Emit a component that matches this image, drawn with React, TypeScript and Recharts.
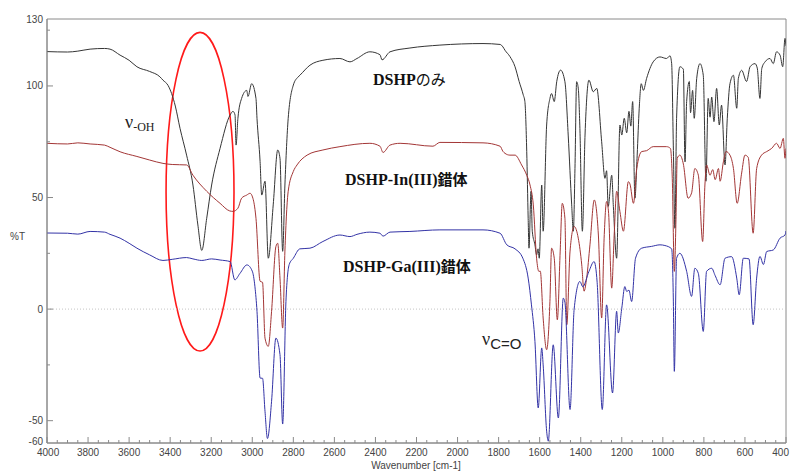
import React from "react";
import {
  LineChart,
  Line,
  XAxis,
  YAxis,
  ReferenceArea,
  ReferenceLine,
} from "recharts";

// wavenumber (cm-1) and %T, high to low wavenumber
const dshpW = [
  4000, 3900, 3850, 3790, 3720, 3693, 3644, 3600, 3562, 3500, 3450, 3435, 3410, 3393, 3375, 3352, 3320, 3289,
  3265, 3246, 3222, 3198, 3157, 3108, 3094, 3084, 3079, 3070, 3052, 3027, 3021, 3003, 2982, 2977, 2962, 2954,
  2938, 2922, 2898, 2876, 2865, 2852, 2841, 2825, 2800, 2777, 2768, 2719, 2656, 2573, 2524, 2490, 2427, 2378,
  2368, 2329, 2232, 2086, 1876, 1793, 1779, 1769, 1745, 1720, 1700, 1680, 1672, 1663, 1656, 1652, 1642, 1636,
  1623, 1615, 1608, 1602, 1590, 1583, 1566, 1550, 1542, 1529, 1517, 1498, 1477, 1461, 1444, 1436, 1428, 1420,
  1412, 1404, 1392, 1379, 1360, 1339, 1322, 1298, 1282, 1274, 1266, 1249, 1241, 1225, 1209, 1200, 1188, 1176,
  1165, 1156, 1147, 1136, 1125, 1115, 1105, 1095, 1079, 1047, 1014, 982, 965, 957, 949, 941, 933, 917, 900,
  892, 884, 871, 865, 855, 847, 835, 819, 803, 790, 779, 770, 762, 751, 738, 725, 714, 697, 686, 673, 656, 640,
  632, 616, 592, 575, 551, 540, 527, 518, 502, 478, 462, 446, 429, 416, 405, 400,
];
const dshpT = [
  115.4, 115.2, 115.6, 116.5, 116.8, 116.5, 113.8, 111.5, 108.6, 106.5, 104.1, 102.6, 100.2, 96.6, 91, 81, 69,
  55.6, 37.7, 26.3, 40.7, 55.6, 72, 87, 88.6, 87, 73.5, 85.5, 94.4, 98, 95.3, 101, 94.4, 85.5, 66.2, 51.1,
  57.3, 22.8, 46.7, 71.3, 67.6, 25.9, 55.6, 85.5, 100.4, 104, 104.8, 109.3, 111.5, 112.3, 110.8, 112.3, 115.3,
  114, 111.7, 115.3, 117, 118.3, 119, 118.6, 117.5, 116, 113.2, 108.6, 102, 96, 93, 70.7, 40.7, 27.3, 52.8,
  34.9, 28.8, 24.3, 27, 22.8, 55.6, 34.9, 82.5, 94.4, 96.6, 93, 101.9, 107.1, 101.9, 78, 46.7, 34.9, 63, 101.9,
  99, 81, 34.9, 78, 102.6, 97.4, 98.9, 75, 58.6, 62, 46, 60, 46, 22.8, 82.5, 78, 85.5, 79, 88.6, 82, 93, 49.7,
  69, 90, 101, 98, 103.4, 110.8, 113, 112.3, 113.5, 110, 73.5, 36.2, 85.5, 108.6, 107.5, 66, 93, 102, 88, 98,
  85.5, 103.4, 110, 104.8, 57.3, 94.4, 86, 95, 84, 98.9, 82.5, 91.4, 64.6, 85.5, 101, 104.8, 90, 103.4, 107,
  102, 108.6, 110, 108, 94.4, 107.8, 110.8, 112.3, 110, 115.3, 113.8, 108.6, 121.3, 118,
];

const inW = [
  4000, 3900, 3850, 3790, 3720, 3693, 3644, 3562, 3500, 3435, 3390, 3320, 3289, 3222, 3157, 3110, 3094, 3070,
  3052, 3027, 3011, 2995, 2982, 2962, 2950, 2938, 2922, 2906, 2885, 2876, 2865, 2852, 2841, 2825, 2800, 2782,
  2733, 2656, 2573, 2427, 2378, 2363, 2329, 2280, 2120, 2086, 1876, 1793, 1779, 1769, 1745, 1720, 1688, 1663,
  1647, 1631, 1615, 1604, 1597, 1583, 1566, 1550, 1542, 1529, 1514, 1500, 1490, 1477, 1468, 1452, 1432, 1412,
  1395, 1384, 1371, 1355, 1334, 1314, 1298, 1286, 1274, 1265, 1249, 1237, 1225, 1209, 1192, 1168, 1160, 1143,
  1127, 1103, 1079, 1047, 982, 963, 954, 944, 936, 930, 917, 900, 877, 860, 844, 827, 806, 795, 787, 770, 757,
  745, 729, 721, 705, 692, 673, 656, 638, 616, 600, 584, 560, 543, 519, 494, 470, 446, 429, 413, 405, 400,
];
const inT = [
  74.3, 74, 74.5, 74, 73.5, 72.5, 70.5, 68.4, 66.8, 65.3, 64.8, 64.6, 60, 52.8, 47.4, 44, 43.8, 45.2, 49.7,
  51.1, 51.9, 49, 40.7, 12.5, 12, -13, -16.7, -1, 28, 29.5, 13.9, -8.5, 26, 52.8, 61.7, 64.6, 69, 71.3, 72.8,
  74.3, 73, 70.2, 73.5, 74.3, 73, 74.7, 74.5, 73, 70.7, 69.8, 69, 69, 64.6, 60, 55.6, 46.7, 22.8, 16.9, 17, -4,
  -18.2, 3.5, 27.3, 22.8, -4.8, 26, 47.4, 40.7, -7, 26, 37, 31.8, 19.8, 8, 14, 28.8, 48.9, 33.2, -4, 31.8, 48.2,
  44, 9.4, 33.2, 52.8, 43.7, 34.9, 57.1, 56, 47.4, 63, 70.6, 71, 72.8, 72.8, 72, 58.6, 16.9, 40, 67.6, 69, 65,
  49.7, 52, 63, 60, 30.3, 55.6, 64.6, 60, 62.5, 58, 63, 57.3, 66, 70.6, 69, 63, 47.4, 61, 69, 68, 34, 63, 69,
  70.6, 72, 74.3, 72, 76.5, 67.6, 72,
];

const gaW = [
  4000, 3900, 3850, 3790, 3720, 3693, 3644, 3600, 3562, 3500, 3435, 3390, 3320, 3289, 3246, 3198, 3157, 3108,
  3085, 3060, 3026, 3000, 2987, 2977, 2962, 2950, 2938, 2926, 2906, 2885, 2865, 2852, 2836, 2820, 2800, 2768,
  2719, 2656, 2573, 2524, 2490, 2427, 2378, 2363, 2329, 2232, 2086, 1876, 1793, 1760, 1720, 1682, 1656, 1640,
  1623, 1607, 1590, 1583, 1566, 1558, 1534, 1509, 1485, 1477, 1452, 1432, 1404, 1390, 1360, 1335, 1320, 1295,
  1274, 1245, 1225, 1217, 1200, 1185, 1176, 1165, 1152, 1133, 1103, 1055, 1014, 990, 957, 949, 944, 933, 917,
  884, 860, 844, 827, 803, 787, 762, 745, 721, 697, 665, 640, 628, 608, 580, 560, 543, 527, 510, 494, 462, 429,
  405, 400,
];
const gaT = [
  34.1, 34, 33.6, 34.8, 34.5, 33.5, 31.8, 29.5, 27.3, 24.3, 21.8, 22.3, 23.1, 22.5, 21.8, 22.5, 22, 21.3,
  13.1, 16, 19.8, 17, 10, -1, -30.9, -31, -45.8, -58, -41.3, -13, -20.4, -51.5, 3.4, 20, 22.8, 27, 27.3, 30.3,
  33.2, 32.5, 33.5, 34.5, 34, 32.7, 34.5, 34.8, 35.5, 35.5, 34, 28.8, 27, 22.8, 13.9, 1.9, -14.5, -44.3, -17.4,
  -25, -54.7, -59.2, -16, -48.8, 4.9, 3, -45, 0, 12.4, 10, 16.9, 21.3, 12, -45, 1.9, -37.6, -1, -10.7, 0.4,
  10.1, 7.9, 8.5, 3.4, 22.8, 27.3, 28.1, 28.8, 28.5, 27, 5, -27.9, 22.8, 25, 16.9, 5.7, 18.3, 16, -10, 16.9,
  18.3, 15, 10.9, 22.8, 23.5, 13.9, 6.4, 22.8, 22.5, -7, 13.9, 23.6, 20, 25.8, 26.5, 31.8, 33.2, 35,
];

const xTicks = Array.from({ length: 73 }, (_, i) => 4000 - i * 50);
const yTicks = [-60, -50, -25, 0, 25, 50, 75, 100, 125, 130];
const yLabels = [-60, -50, 0, 50, 100, 130];

const toRows = (w: number[], t: number[]) => w.map((v, i) => ({ w: v, t: t[i] }));
const dshp = toRows(dshpW, dshpT);
const dshpIn = toRows(inW, inT);
const dshpGa = toRows(gaW, gaT);

const AXIS = "#8a8a8a";
const TICK_TEXT = "#444";
const TICK_FONT = "'Liberation Sans', Arial, sans-serif";

function XTick({ x, y, payload }: any) {
  const v = payload.value;
  const major = v % 200 === 0;
  // the last label sits at the window edge, keep it inside
  const anchor = v === 400 ? "end" : v === 4000 ? "start" : "middle";
  const tx = v === 400 ? x + 3 : v === 4000 ? x - 10 : x;
  return (
    <g>
      <line x1={x} x2={x} y1={y} y2={y - (major ? 6 : 3)} stroke={AXIS} />
      {major && (
        <text x={tx} y={y + 13} textAnchor={anchor} fontSize={10} fill={TICK_TEXT} fontFamily={TICK_FONT}>
          {v}
        </text>
      )}
    </g>
  );
}

function YTick({ x, y, payload }: any) {
  const v = payload.value;
  const labeled = yLabels.includes(v);
  const len = v === 130 || v === -60 ? 0 : labeled ? 6 : 3;
  const dy = v === -60 ? 1.5 : 3.5;
  return (
    <g>
      {len > 0 && <line x1={x} x2={x + len} y1={y} y2={y} stroke={AXIS} />}
      {labeled && (
        <text x={x - 4} y={y + dy} textAnchor="end" fontSize={10} fill={TICK_TEXT} fontFamily={TICK_FONT}>
          {v}
        </text>
      )}
    </g>
  );
}

const Ellipse = (p: any) => (
  <ellipse
    cx={p.x + p.width / 2}
    cy={p.y + p.height / 2}
    rx={Math.abs(p.width) / 2}
    ry={Math.abs(p.height) / 2}
    fill="none"
    stroke="#ff1a1a"
    strokeWidth={1.6}
  />
);

const serif = "'Liberation Serif', 'Times New Roman', 'Noto Sans CJK JP', serif";

export default function App() {
  return (
    <div style={{ position: "relative", width: 790, height: 472, background: "#fff" }}>
      <style>{"body{margin:0}"}</style>
      <LineChart width={790} height={472} margin={{ top: 19, right: 4, bottom: 0, left: 0 }}>
        <XAxis
          dataKey="w"
          type="number"
          domain={[400, 4000]}
          reversed
          allowDataOverflow
          ticks={xTicks}
          interval={0}
          tick={<XTick />}
          tickLine={false}
          tickSize={0}
          tickMargin={0}
          height={29}
          axisLine={{ stroke: AXIS }}
        />
        <YAxis
          type="number"
          domain={[-60, 130]}
          allowDataOverflow
          ticks={yTicks}
          interval={0}
          tick={<YTick />}
          tickLine={false}
          tickSize={0}
          tickMargin={0}
          width={47}
          axisLine={{ stroke: AXIS }}
        />
        <ReferenceArea x1={4000} x2={400} y1={-60} y2={130} fill="none" stroke={AXIS} />
        <ReferenceLine y={0} stroke="#c4c4c4" strokeDasharray="1 2" />
        <Line data={dshp} dataKey="t" type="monotone" stroke="#353535" strokeWidth={1} dot={false} isAnimationActive={false} />
        <Line data={dshpIn} dataKey="t" type="monotone" stroke="#a33636" strokeWidth={1} dot={false} isAnimationActive={false} />
        <Line data={dshpGa} dataKey="t" type="monotone" stroke="#3333a6" strokeWidth={1} dot={false} isAnimationActive={false} />
        <ReferenceArea x1={3420} x2={3089} y1={-18.8} y2={124} shape={Ellipse} ifOverflow="visible" />
      </LineChart>
      <svg width={790} height={472} style={{ position: "absolute", left: 0, top: 0, pointerEvents: "none" }}>
        <text x={10} y={240} fontSize={10} fill={TICK_TEXT} fontFamily={TICK_FONT}>%T</text>
        <text x={416} y={469} fontSize={10} fill={TICK_TEXT} fontFamily={TICK_FONT} textAnchor="middle">
          Wavenumber [cm-1]
        </text>
        <text x={125} y={128} fontFamily={serif} fill="#222">
          <tspan fontSize={18}>ν</tspan>
          <tspan fontSize={12} dy={3}>-OH</tspan>
        </text>
        <text x={482} y={345} fill="#222">
          <tspan fontSize={18} fontFamily={serif}>ν</tspan>
          <tspan fontSize={15} dy={4} fontFamily="'Liberation Sans Narrow', 'Liberation Sans', sans-serif">C=O</tspan>
        </text>
        <text x={373} y={85} fontFamily={serif} fontSize={16} fill="#111">
          <tspan fontWeight="bold">DSHP</tspan>
          <tspan fontFamily="'Noto Sans CJK JP', sans-serif" fontSize={15}>のみ</tspan>
        </text>
        <text x={345} y={185} fontFamily={serif} fontSize={16} fontWeight="bold" fill="#111">
          DSHP-In(III)
          <tspan fontFamily="'Noto Sans CJK JP', sans-serif" fontSize={15}>錯体</tspan>
        </text>
        <text x={343} y={272} fontFamily={serif} fontSize={16} fontWeight="bold" fill="#111">
          DSHP-Ga(III)
          <tspan fontFamily="'Noto Sans CJK JP', sans-serif" fontSize={15}>錯体</tspan>
        </text>
      </svg>
    </div>
  );
}
